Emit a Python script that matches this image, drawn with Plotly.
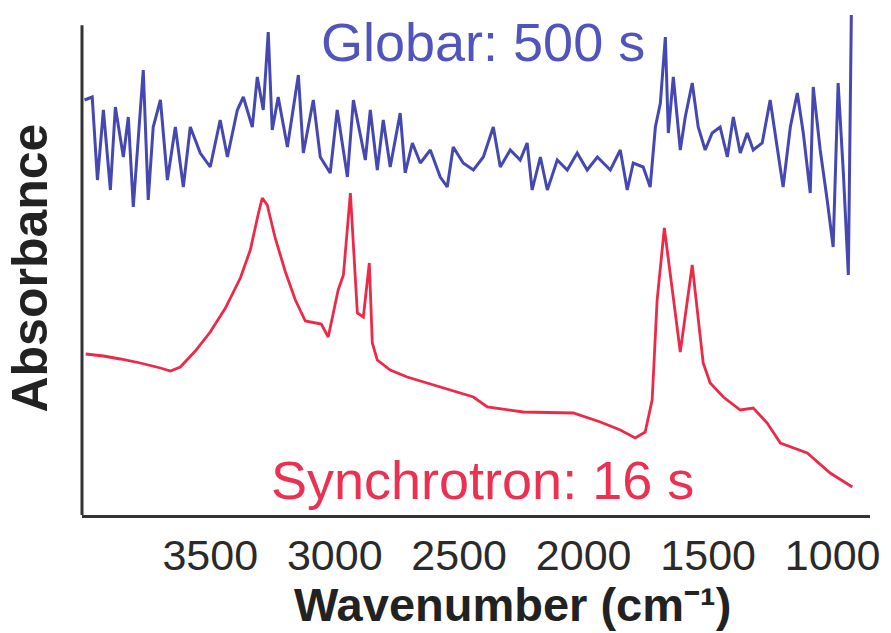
import plotly.graph_objects as go

# Synchrotron spectrum (wavenumber cm-1, absorbance a.u.)
sync_wn = [4000, 3929, 3861, 3781, 3700, 3660, 3620, 3560, 3500, 3439, 3379, 3339,
           3307, 3291, 3271, 3239, 3198, 3158, 3118, 3078, 3054, 3026, 2986, 2965,
           2937, 2909, 2885, 2861, 2849, 2829, 2777, 2709, 2576, 2443, 2387, 2243,
           2042, 1933, 1853, 1793, 1753, 1725, 1705, 1676, 1644, 1612, 1564, 1520,
           1492, 1439, 1371, 1319, 1263, 1210, 1102, 1010, 921]
sync_abs = [0.322, 0.318, 0.312, 0.304, 0.294, 0.288, 0.296, 0.328, 0.366, 0.414, 0.474, 0.530,
            0.602, 0.634, 0.620, 0.554, 0.486, 0.430, 0.388, 0.384, 0.382, 0.356, 0.450, 0.480,
            0.644, 0.404, 0.396, 0.504, 0.344, 0.310, 0.290, 0.276, 0.256, 0.236, 0.216, 0.206,
            0.204, 0.186, 0.170, 0.154, 0.166, 0.230, 0.430, 0.574, 0.450, 0.326, 0.500, 0.304,
            0.264, 0.236, 0.210, 0.214, 0.184, 0.144, 0.124, 0.084, 0.056]

# Globar spectrum (wavenumber cm-1, absorbance a.u., offset)
glob_wn = [4005, 3974, 3953, 3929, 3901, 3881, 3849, 3829, 3809, 3769, 3749, 3729,
           3700, 3672, 3640, 3608, 3580, 3540, 3500, 3460, 3431, 3391, 3367, 3331,
           3311, 3287, 3267, 3251, 3227, 3190, 3146, 3126, 3086, 3058, 3018, 2990,
           2949, 2925, 2877, 2857, 2829, 2805, 2777, 2737, 2717, 2688, 2656, 2616,
           2576, 2548, 2524, 2484, 2443, 2403, 2363, 2335, 2295, 2255, 2227, 2207,
           2174, 2146, 2106, 2066, 2026, 1986, 1945, 1913, 1893, 1853, 1825, 1801,
           1761, 1733, 1712, 1692, 1672, 1660, 1640, 1612, 1592, 1564, 1540, 1512,
           1484, 1452, 1423, 1399, 1371, 1343, 1319, 1283, 1251, 1223, 1199, 1170,
           1142, 1118, 1090, 1078, 1050, 1022, 998, 978, 957, 937, 925]
glob_abs = [0.830, 0.836, 0.670, 0.810, 0.650, 0.816, 0.716, 0.796, 0.616, 0.890, 0.630, 0.776,
            0.830, 0.670, 0.776, 0.656, 0.776, 0.724, 0.696, 0.790, 0.716, 0.810, 0.836, 0.776,
            0.876, 0.810, 0.966, 0.770, 0.836, 0.736, 0.880, 0.724, 0.830, 0.716, 0.684, 0.810,
            0.676, 0.830, 0.710, 0.810, 0.690, 0.790, 0.696, 0.804, 0.684, 0.744, 0.704, 0.730,
            0.676, 0.656, 0.736, 0.704, 0.690, 0.716, 0.776, 0.696, 0.730, 0.710, 0.744, 0.650,
            0.716, 0.650, 0.710, 0.690, 0.724, 0.690, 0.716, 0.700, 0.690, 0.730, 0.650, 0.704,
            0.696, 0.656, 0.776, 0.824, 0.956, 0.764, 0.876, 0.730, 0.796, 0.864, 0.776, 0.730,
            0.764, 0.776, 0.716, 0.796, 0.724, 0.764, 0.730, 0.744, 0.830, 0.736, 0.656, 0.776,
            0.844, 0.764, 0.644, 0.856, 0.730, 0.630, 0.536, 0.864, 0.684, 0.480, 1.000]

tick_vals = [3500, 3000, 2500, 2000, 1500, 1000]
tick_text = ["3500", "3000", "2500", "2000", "1500", "1000"]

BLUE = "rgb(70,72,178)"
RED = "rgb(236,42,72)"
AXIS = "#333"
FONT = "Liberation Sans, Arial, sans-serif"

fig = go.Figure()
fig.add_trace(go.Scatter(x=glob_wn, y=glob_abs, mode="lines",
                         line=dict(color=BLUE, width=3), showlegend=False))
fig.add_trace(go.Scatter(x=sync_wn, y=sync_abs, mode="lines",
                         line=dict(color=RED, width=2.8), showlegend=False))

fig.add_annotation(x=2403, y=0.946, text="Globar: 500 s", showarrow=False,
                   font=dict(family=FONT, size=54, color="rgb(80,84,188)"))
fig.add_annotation(x=2407, y=0.07, text="Synchrotron: 16 s", showarrow=False,
                   font=dict(family=FONT, size=54, color="rgb(236,48,82)"))

# axis titles
fig.add_annotation(xref="paper", yref="paper", x=0.546, y=-0.178, yanchor="middle",
                   text="<b>Wavenumber (cm⁻¹)</b>", showarrow=False,
                   font=dict(family=FONT, size=47, color="#222"))
fig.add_annotation(xref="paper", yref="paper", x=-0.066, y=0.49, textangle=-90,
                   xanchor="center", yanchor="middle",
                   text="<b>Absorbance</b>", showarrow=False,
                   font=dict(family=FONT, size=50, color="#222"))

# left axis line (shorter than the plot area, as in the reference)
fig.add_shape(type="line", xref="paper", yref="paper", x0=0, x1=0, y0=0, y1=0.97,
              line=dict(color=AXIS, width=3))

fig.update_layout(
    width=891, height=633,
    margin=dict(l=82, r=21, t=10, b=118),
    paper_bgcolor="white", plot_bgcolor="white",
    font=dict(family=FONT, color="#222"),
    xaxis=dict(range=[4015, 850], tickvals=tick_vals, ticktext=tick_text,
               showgrid=False, zeroline=False, showline=True, linecolor=AXIS,
               linewidth=3, ticks="", tickfont=dict(size=43, color="#2a2a2a")),
    yaxis=dict(range=[0, 1.01], showticklabels=False, showgrid=False, zeroline=False,
               showline=False, ticks=""),
)

fig.write_html("out.html")
